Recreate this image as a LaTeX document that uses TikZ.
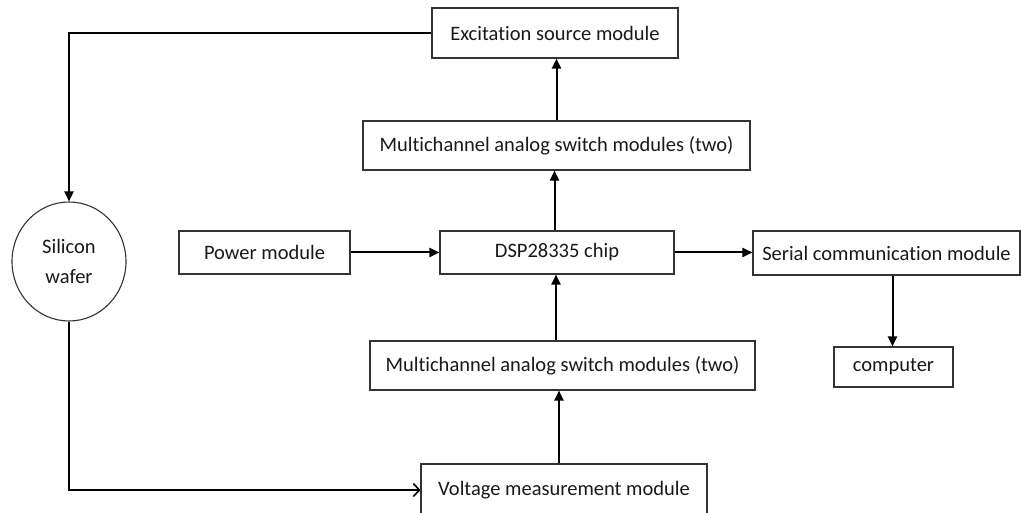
\documentclass[tikz,border=0pt]{standalone}
\usepackage{fontspec}
\setmainfont{Carlito}[Ligatures=NoCommon]
\usetikzlibrary{arrows.meta,shapes.geometric}
\begin{document}
\begin{tikzpicture}[x=1pt,y=-1pt,
  box/.style={draw=black!80,line width=1.1pt,rectangle,inner sep=0pt,font=\fontsize{20.5}{24}\selectfont,text=black!90},
  arr/.style={line width=2pt,-{Triangle[length=10pt,width=9pt]}},
  oarr/.style={line width=2pt,-{Straight Barb[length=6pt,width=13pt,line width=1.6pt]}}]
\useasboundingbox (0,0) rectangle (1021,513);
\node[box,minimum width=246pt,minimum height=50pt] (exc) at (555,33) {Excitation source module};
\node[box,minimum width=387pt,minimum height=49pt] (multt) at (556.5,145.5) {Multichannel analog switch modules (two)};
\node[box,minimum width=171pt,minimum height=43pt] (pow) at (264.5,252.5) {Power module};
\node[box,minimum width=234pt,minimum height=43pt] (dsp) at (557,252.5) {DSP28335 chip};
\node[box,minimum width=267pt,minimum height=44pt] (ser) at (886.5,253) {Serial communication module};
\node[box,minimum width=119pt,minimum height=40pt] (comp) at (893.5,367) {computer};
\node[box,minimum width=385pt,minimum height=49pt] (multb) at (562.5,365.5) {Multichannel analog switch modules (two)};
\node[box,minimum width=286pt,minimum height=52pt] (volt) at (564,490) {Voltage measurement module};
\node[box,ellipse,minimum width=114pt,minimum height=119pt,align=center,font=\fontsize{20.5}{30}\selectfont] (sil) at (69,261.5) {Silicon\\wafer};
\draw[arr] (multt.north) -- (multt.north |- exc.south);
\draw[arr] (exc.west) -| (sil.north);
\draw[arr] ([xshift=-2pt]dsp.north -| multt.north) -- ([xshift=-2pt]multt.south);
\draw[arr] (pow.east) -- (dsp.west);
\draw[arr] (dsp.east) -- (dsp.east -| ser.west);
\draw[arr] ([xshift=-1pt]dsp.south |- multb.north) -- ([xshift=-1pt]dsp.south);
\draw[arr] ([xshift=-5pt]volt.north) -- ([xshift=-5pt]volt.north |- multb.south);
\draw[arr] ([xshift=-1pt]comp.north |- ser.south) -- ([xshift=-1pt]comp.north);
\draw[oarr] (sil.south) |- (volt.west);
\end{tikzpicture}
\end{document}
